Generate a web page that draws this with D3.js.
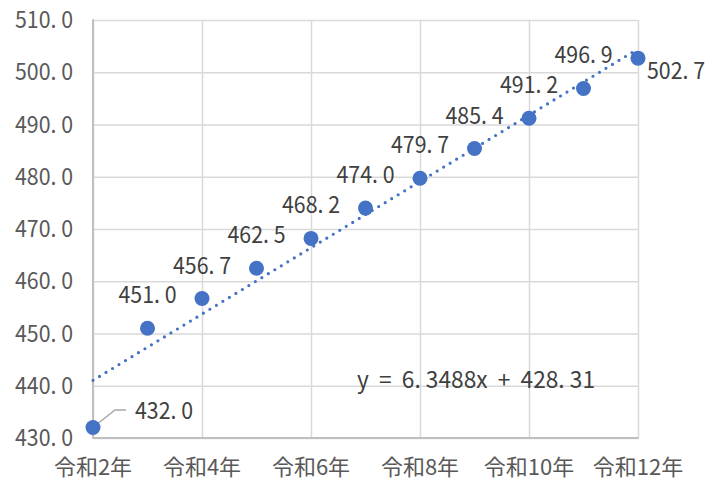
<!DOCTYPE html>
<html>
<head>
<meta charset="utf-8">
<script src="https://cdn.jsdelivr.net/npm/d3@7"></script>
<style>
  html, body { margin: 0; padding: 0; background: #fff; }
  svg { display: block; font-family: "Noto Sans CJK JP", "Noto Sans", sans-serif; }
</style>
</head>
<body>
<svg id="chart" width="724" height="482"></svg>
<script>
// ---- data ----
const categories = ["令和2年","令和3年","令和4年","令和5年","令和6年","令和7年","令和8年","令和9年","令和10年","令和11年","令和12年"];
const values = [432.0, 451.0, 456.7, 462.5, 468.2, 474.0, 479.7, 485.4, 491.2, 496.9, 502.7];
const yTicks = [430, 440, 450, 460, 470, 480, 490, 500, 510];
const xTickLabels = ["令和2年","令和4年","令和6年","令和8年","令和10年","令和12年"];
const equationText = "y = 6.3488x + 428.31";

// ---- layout ----
const svg = d3.select("#chart");
const pL = 93, pR = 638, pT = 20, pB = 438;
const numSize = 23, catSize = 22;
const numWidth = 58;
const x = d3.scaleLinear().domain([1, categories.length]).range([pL, pR]);
const y = d3.scaleLinear().domain([430, 510]).range([pB, pT]);
const fmt = v => v.toFixed(1).replace(".", ". ");

// gridlines
const gx = d3.axisBottom(x).tickValues(d3.range(1, categories.length + 1, 2)).tickSize(-(pB - pT)).tickFormat("");
svg.append("g").attr("transform", `translate(0,${pB})`).call(gx)
  .call(g => g.select(".domain").remove())
  .call(g => g.selectAll("line").attr("stroke", "#d9d9d9").attr("stroke-width", 1.5));
const gy = d3.axisLeft(y).tickValues(yTicks).tickSize(-(pR - pL)).tickFormat("");
svg.append("g").attr("transform", `translate(${pL},0)`).call(gy)
  .call(g => g.select(".domain").remove())
  .call(g => g.selectAll("line").attr("stroke", "#d9d9d9").attr("stroke-width", 1.5));

// axes lines
svg.append("line").attr("x1", pL).attr("x2", pL).attr("y1", pT - 0.75).attr("y2", pB + 0.75)
  .attr("stroke", "#bfbfbf").attr("stroke-width", 2);
svg.append("line").attr("x1", pL).attr("x2", pR + 0.75).attr("y1", pB).attr("y2", pB)
  .attr("stroke", "#bfbfbf").attr("stroke-width", 2);

// y tick labels
svg.append("g").selectAll("text").data(yTicks).join("text")
  .attr("x", 73).attr("y", d => y(d)).attr("dy", "0.35em")
  .attr("text-anchor", "end").attr("font-size", numSize).attr("fill", "#595959")
  .attr("textLength", numWidth).attr("lengthAdjust", "spacingAndGlyphs")
  .style("white-space", "pre")
  .text(fmt);

// x tick labels
svg.append("g").selectAll("text").data(xTickLabels).join("text")
  .attr("x", d => x(categories.indexOf(d) + 1)).attr("y", 467).attr("dy", "0.35em")
  .attr("text-anchor", "middle").attr("font-size", catSize).attr("fill", "#595959")
  .text(d => d);

// trendline (least squares fit of the series)
const xs = values.map((d, i) => i + 1);
const mx = d3.mean(xs), my = d3.mean(values);
const slope = d3.sum(xs, (xi, i) => (xi - mx) * (values[i] - my)) / d3.sum(xs, xi => (xi - mx) ** 2);
const icpt = my - slope * mx;
svg.append("line")
  .attr("x1", x(1)).attr("y1", y(icpt + slope * 1))
  .attr("x2", x(categories.length)).attr("y2", y(icpt + slope * categories.length))
  .attr("stroke", "#4472c4").attr("stroke-width", 3.2)
  .attr("stroke-linecap", "round").attr("stroke-dasharray", "0 7.6");

// leader line for first label
svg.append("polyline")
  .attr("points", [[x(1), y(values[0])], [115, 410], [126, 410]].map(p => p.join(",")).join(" "))
  .attr("fill", "none").attr("stroke", "#a6a6a6").attr("stroke-width", 1.3);

// markers
svg.append("g").selectAll("circle").data(values).join("circle")
  .attr("cx", (d, i) => x(i + 1)).attr("cy", d => y(d)).attr("r", 7.5)
  .attr("fill", "#4472c4");

// data labels
svg.append("g").selectAll("text").data(values).join("text")
  .attr("font-size", numSize).attr("fill", "#404040")
  .attr("textLength", numWidth).attr("lengthAdjust", "spacingAndGlyphs")
  .style("white-space", "pre")
  .each(function(d, i) {
    const t = d3.select(this);
    const px = x(i + 1), py = y(d);
    if (i === 0) {
      t.attr("x", 135).attr("y", 411).attr("text-anchor", "start");
    } else if (i === values.length - 1) {
      t.attr("x", 647).attr("y", 71).attr("text-anchor", "start");
    } else {
      t.attr("x", px).attr("y", py - 33).attr("text-anchor", "middle");
    }
    t.attr("dy", "0.35em").text(fmt(d));
  });

// equation
svg.append("text").attr("x", 357).attr("y", 380).attr("dy", "0.35em")
  .attr("font-size", numSize).attr("fill", "#404040")
  .attr("textLength", 238).attr("lengthAdjust", "spacingAndGlyphs")
  .style("white-space", "pre")
  .text(equationText.replace(/ /g, "  ").replace(/\./g, ". "));
</script>
</body>
</html>
